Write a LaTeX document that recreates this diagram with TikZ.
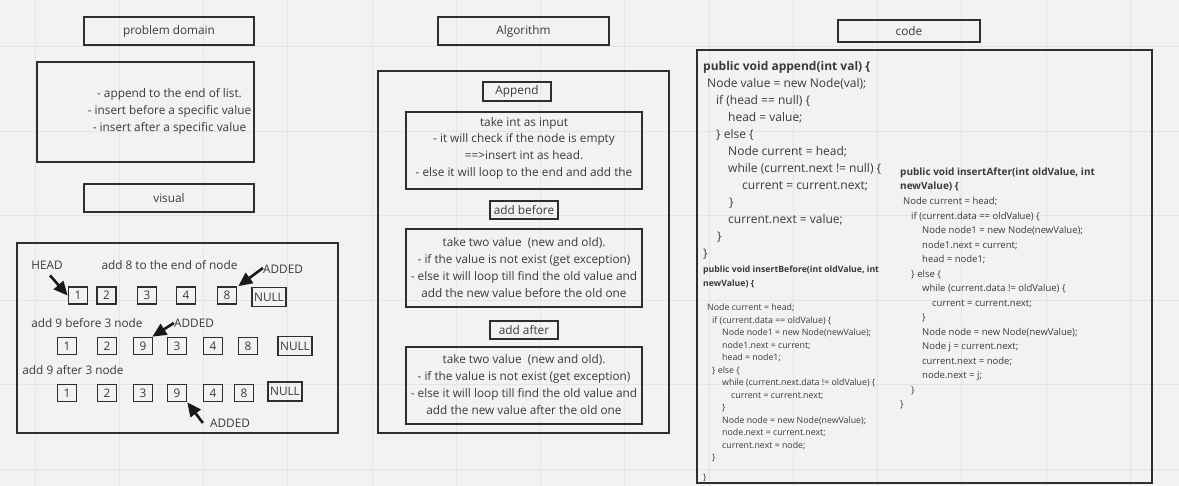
\documentclass[tikz,border=0pt]{standalone}
\usepackage{fontspec}
\setmainfont{Open Sans}
\usetikzlibrary{arrows.meta}
\definecolor{bg}{HTML}{F2F2F2}
\definecolor{gridc}{HTML}{E4E4E4}
\definecolor{ink}{HTML}{2E2E2E}
\definecolor{txt}{HTML}{3A3A3A}
\begin{document}
\begin{tikzpicture}[x=1pt,y=-1pt,
  body/.style={text=txt, inner sep=0pt, font=\fontsize{11.8}{16.8}\selectfont, align=center},
  tbox/.style={body, draw=ink, line width=1.6pt},
  panel/.style={draw=ink, line width=1.8pt, inner sep=0pt},
  nbox/.style={draw=ink, line width=1.6pt, text=txt, inner sep=0pt, minimum width=19pt, minimum height=17pt, font=\fontsize{11.8}{14}\selectfont},
  nullbox/.style={nbox, minimum width=34pt, minimum height=19pt},
  code/.style={text=txt, inner sep=0pt, align=left, anchor=west},
  arr/.style={draw=black!90, line width=2.6pt, -{Triangle[length=14pt,width=12.5pt]}}]
\fill[bg] (0,0) rectangle (1179,486);
\useasboundingbox (0,0) rectangle (1179,486);
% grid
\foreach \gx in {35,119.25,203.5,287.75,372,456.25,540.5,624.75,709,793.25,877.5,961.75,1046,1130.25}
  \draw[gridc, line width=1pt] (\gx,0) -- (\gx,486);
\foreach \gy in {47,131.4,215.8,300.2,384.6,469}
  \draw[gridc, line width=1pt] (0,\gy) -- (1179,\gy);

% titles
\node[tbox, minimum width=170pt, minimum height=28pt] (tpd) at (169,31) {problem domain};
\node[tbox, minimum width=171pt, minimum height=28pt] (talg) at (523.5,31) {Algorithm};
\node[tbox, minimum width=142pt, minimum height=22pt] (tcode) at (909,31) {code};
\node[tbox, minimum width=170pt, minimum height=28pt] (tvis) at (169,198) {visual};

% problem domain
\node[panel, minimum width=217pt, minimum height=100pt] (pdpanel) at (145.5,112) {};
\node[body] (pdtext) at (169.5,111.5) {- append to the end of list.\\- insert before a specific value\\- insert after a specific value};

% visual
\node[panel, minimum width=321pt, minimum height=190pt] (vispanel) at (177.5,338) {};
\node[body] (head) at (47,265) {HEAD};
\node[body] (l1) at (169.5,265) {add 8 to the end of node};
\node[body] (added1) at (283,269) {ADDED};
\node[body] (l2) at (87,323) {add 9 before 3 node};
\node[body] (added2) at (194,323) {ADDED};
\node[body] (l3) at (73,370) {add 9 after 3 node};
\node[body] (added3) at (230,423) {ADDED};

\node[nbox] (a1) at (78,295.5) {1};
\node[nbox] (a2) at (106.5,295.5) {2};
\node[nbox] (a3) at (147,295.5) {3};
\node[nbox] (a4) at (186,295.5) {4};
\node[nbox] (a5) at (227,295.5) {8};
\node[nullbox] (a6) at (269,297) {NULL};

\node[nbox] (b1) at (67,346) {1};
\node[nbox] (b2) at (107,346) {2};
\node[nbox] (b3) at (143,346) {9};
\node[nbox] (b4) at (177,346) {3};
\node[nbox] (b5) at (213,346) {4};
\node[nbox] (b6) at (248,346) {8};
\node[nullbox] (b7) at (295,346) {NULL};

\node[nbox] (c1) at (67,393) {1};
\node[nbox] (c2) at (107,393) {2};
\node[nbox] (c3) at (143,393) {3};
\node[nbox] (c4) at (177,393) {9};
\node[nbox] (c5) at (213,393) {4};
\node[nbox] (c6) at (244,393) {8};
\node[nullbox] (c7) at (285,391.5) {NULL};

\draw[arr] ([xshift=3pt,yshift=-6pt]head.south) -- (a1.west);
\draw[arr] ([yshift=1pt]added1.west) -- ([xshift=1pt]a5.north east);
\draw[arr] (added2.west) -- ([xshift=-1pt]b3.north east);
\draw[arr] ([xshift=-7pt]added3.west) -- (c4.south east);

% algorithm
\node[panel, minimum width=291pt, minimum height=362pt] (algpanel) at (523.5,252) {};
\node[tbox, minimum width=68pt, minimum height=19pt] (happ) at (517,91.5) {Append};
\node[panel, minimum width=236pt, minimum height=77pt] (dapp) at (524,150.5) {};
\node[body] (tapp) at (524,148.2) {take int as input\\- it will check if the node is empty\\==>insert int as head.\\- else it will loop to the end and add the};
\node[tbox, minimum width=68pt, minimum height=18pt] (hbef) at (524,210) {add before};
\node[panel, minimum width=236pt, minimum height=78pt] (dbef) at (524,268) {};
\node[body] (tbef) at (524,267.5) {take two value\ \ (new and old).\\- if the value is not exist (get exception)\\- else it will loop till find the old value and\\add the new value before the old one};
\node[tbox, minimum width=68pt, minimum height=18pt] (haft) at (524,330) {add after};
\node[panel, minimum width=236pt, minimum height=77pt] (daft) at (524,385.5) {};
\node[body] (taft) at (524,384.5) {take two value\ \ (new and old).\\- if the value is not exist (get exception)\\- else it will loop till find the old value and\\add the new value after the old one};

% code
\node[panel, minimum width=455pt, minimum height=433pt] (codepanel) at (924.5,266.5) {};
\node[code, font=\fontsize{12}{17}\selectfont] (capp) at (703,160) {%
{\bfseries public void append(int val) \{}\\
\hspace*{4pt}Node value = new Node(val);\\
\hspace*{13pt}if (head == null) \{\\
\hspace*{25pt}head = value;\\
\hspace*{13pt}\} else \{\\
\hspace*{25pt}Node current = head;\\
\hspace*{25pt}while (current.next != null) \{\\
\hspace*{39pt}current = current.next;\\
\hspace*{26pt}\}\\
\hspace*{25pt}current.next = value;\\
\hspace*{14pt}\}\\
\}};
\node[code, font=\bfseries\fontsize{8.7}{14}\selectfont] (hbefc) at (703,277) {public void insertBefore(int oldValue, int\\newValue) \{};
\node[code, font=\fontsize{8.8}{12.5}\selectfont] (cbef) at (703,383) {%
\hspace*{4pt}Node current = head;\\
\hspace*{9pt}if (current.data == oldValue) \{\\
\hspace*{19pt}Node node1 = new Node(newValue);\\
\hspace*{19pt}node1.next = current;\\
\hspace*{19pt}head = node1;\\
\hspace*{9pt}\} else \{\\
\hspace*{19pt}while (current.next.data != oldValue) \{\\
\hspace*{28pt}current = current.next;\\
\hspace*{19pt}\}\\
\hspace*{19pt}Node node = new Node(newValue);\\
\hspace*{19pt}node.next = current.next;\\
\hspace*{19pt}current.next = node;\\
\hspace*{9pt}\}};
\node[code, font=\fontsize{8.8}{12.5}\selectfont] (cbefend) at (703,478.5) {\}};
\node[code, font=\bfseries\fontsize{10}{14}\selectfont] (haftc) at (900,179) {public void insertAfter(int oldValue, int\\newValue) \{};
\node[code, font=\fontsize{9.5}{14.5}\selectfont] (caft) at (900,303.5) {%
\hspace*{3pt}Node current = head;\\
\hspace*{11pt}if (current.data == oldValue) \{\\
\hspace*{22pt}Node node1 = new Node(newValue);\\
\hspace*{22pt}node1.next = current;\\
\hspace*{22pt}head = node1;\\
\hspace*{11pt}\} else \{\\
\hspace*{22pt}while (current.data != oldValue) \{\\
\hspace*{32pt}current = current.next;\\
\hspace*{22pt}\}\\
\hspace*{22pt}Node node = new Node(newValue);\\
\hspace*{22pt}Node j = current.next;\\
\hspace*{22pt}current.next = node;\\
\hspace*{22pt}node.next = j;\\
\hspace*{11pt}\}\\
\}};
\end{tikzpicture}
\end{document}
